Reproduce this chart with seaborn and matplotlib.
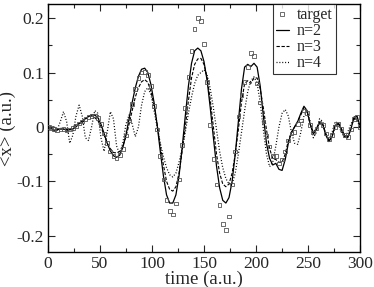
import numpy as np
import pandas as pd
import matplotlib
matplotlib.use("Agg")
import matplotlib.pyplot as plt
import seaborn as sns
from matplotlib.ticker import MultipleLocator, FixedLocator, FixedFormatter

# ---------------- data ----------------
time = np.arange(0, 301, 3)

target = [0.0, -0.002, -0.004, -0.006, -0.005, -0.004, -0.006, -0.005, -0.002, 0.002,
          0.006, 0.01, 0.014, 0.018, 0.02, 0.021, 0.016, 0.005, -0.012, -0.03,
          -0.045, -0.054, -0.057, -0.052, -0.04, -0.016, 0.012, 0.042, 0.07, 0.09,
          0.1, 0.101, 0.095, 0.075, 0.038, -0.005, -0.053, -0.097, -0.134, -0.155,
          -0.161, -0.141, -0.097, -0.033, 0.035, 0.092, 0.14, 0.18, 0.2, 0.195,
          0.152, 0.083, 0.004, -0.059, -0.106, -0.143, -0.178, -0.19, -0.165, -0.106,
          -0.045, 0.019, 0.059, 0.083, 0.11, 0.136, 0.131, 0.08, 0.045, 0.01,
          -0.016, -0.036, -0.053, -0.053, -0.067, -0.06, -0.045, -0.025, -0.012, -0.009,
          0.005, 0.012, 0.03, 0.025, 0.003, -0.01, -0.003, 0.008, 0.003, -0.012,
          -0.022, -0.015, 0.0, 0.005, -0.004, -0.015, -0.018, -0.005, 0.015, 0.018,
          0.0]

n2 = [0.0, -0.003, -0.006, -0.005, -0.004, -0.004, -0.005, -0.005, -0.004, 0.0,
      0.006, 0.011, 0.015, 0.019, 0.022, 0.022, 0.017, 0.005, -0.012, -0.03,
      -0.044, -0.053, -0.056, -0.052, -0.038, -0.015, 0.015, 0.045, 0.072, 0.093,
      0.106, 0.108, 0.1, 0.078, 0.045, 0.003, -0.045, -0.09, -0.125, -0.14,
      -0.14, -0.125, -0.09, -0.038, 0.02, 0.075, 0.117, 0.14, 0.145, 0.14,
      0.12, 0.085, 0.035, -0.02, -0.072, -0.112, -0.135, -0.14, -0.13, -0.1,
      -0.05, 0.01, 0.07, 0.11, 0.115, 0.111, 0.117, 0.11, 0.075, 0.02,
      -0.03, -0.058, -0.07, -0.067, -0.078, -0.08, -0.06, -0.03, -0.01, 0.0,
      0.01, 0.025, 0.038, 0.03, 0.005, -0.013, -0.005, 0.008, 0.005, -0.015,
      -0.027, -0.018, 0.003, 0.006, -0.005, -0.018, -0.02, -0.005, 0.018, 0.02,
      0.0]

n3 = [0.0, -0.004, -0.008, -0.006, -0.002, -0.004, -0.008, -0.006, 0.0, 0.004,
      0.006, 0.008, 0.014, 0.02, 0.02, 0.017, 0.012, 0.0, -0.015, -0.03,
      -0.04, -0.047, -0.048, -0.045, -0.035, -0.018, 0.005, 0.03, 0.055, 0.072,
      0.083, 0.087, 0.082, 0.065, 0.04, 0.005, -0.035, -0.07, -0.1, -0.115,
      -0.118, -0.11, -0.085, -0.045, 0.0, 0.048, 0.09, 0.115, 0.125, 0.126,
      0.115, 0.09, 0.05, 0.0, -0.05, -0.085, -0.105, -0.11, -0.105, -0.085,
      -0.05, -0.005, 0.045, 0.08, 0.085, 0.08, 0.09, 0.09, 0.07, 0.035,
      -0.005, -0.04, -0.058, -0.06, -0.065, -0.065, -0.05, -0.025, -0.01, 0.0,
      0.01, 0.022, 0.035, 0.028, 0.005, -0.01, -0.003, 0.01, 0.005, -0.012,
      -0.025, -0.018, 0.0, 0.008, -0.003, -0.015, -0.018, -0.004, 0.015, 0.017,
      0.0]

n4 = [0.0, 0.002, 0.0, -0.005, 0.01, 0.028, 0.01, -0.03, -0.015, 0.02,
      0.04, 0.02, -0.02, -0.025, 0.0, 0.03, 0.025, -0.02, -0.045, -0.01,
      0.028, 0.015, -0.035, -0.05, -0.03, 0.005, 0.022, 0.005, -0.018, 0.0,
      0.04, 0.065, 0.072, 0.06, 0.03, 0.0, -0.03, -0.055, -0.075, -0.088,
      -0.092, -0.085, -0.065, -0.04, -0.01, 0.025, 0.055, 0.08, 0.095, 0.1,
      0.105, 0.095, 0.07, 0.035, -0.005, -0.045, -0.075, -0.095, -0.105, -0.105,
      -0.085, -0.05, -0.01, 0.03, 0.065, 0.085, 0.092, 0.08, 0.045, -0.005,
      -0.05, -0.073, -0.065, -0.035, 0.0, 0.025, 0.032, 0.02, -0.01, -0.03,
      -0.032, -0.01, 0.02, 0.03, 0.01, -0.02, -0.01, 0.015, 0.01, -0.015,
      -0.025, -0.01, 0.01, 0.005, -0.01, -0.02, -0.01, 0.005, 0.015, 0.01,
      0.0]

series_labels = ["target", "n=2", "n=3", "n=4"]
xticks = [0, 50, 100, 150, 200, 250, 300]
xtick_labels = ["0", "50", "100", "150", "200", "250", "300"]
yticks = [-0.2, -0.1, 0.0, 0.1, 0.2]
ytick_labels = ["-0.2", "-0.1", "0", "0.1", "0.2"]
xlabel = "time (a.u.)"
ylabel = "<x> (a.u.)"

# ---------------- plot ----------------
sns.set_style("ticks")
plt.rcParams["font.family"] = ["Liberation Serif", "DejaVu Serif"]

df = pd.DataFrame({"time": time, "target": target, "n=2": n2, "n=3": n3, "n=4": n4})

fig = plt.figure(figsize=(3.74, 2.87), dpi=100)
ax = fig.add_axes([0.128, 0.122, 0.835, 0.864])

sns.scatterplot(data=df, x="time", y="target", ax=ax, marker="s", s=7,
                facecolor="none", edgecolor="#555555", linewidth=0.6, zorder=4)
sns.lineplot(data=df, x="time", y="n=2", ax=ax, color="black", linewidth=0.9,
             linestyle="-")
sns.lineplot(data=df, x="time", y="n=3", ax=ax, color="black", linewidth=0.8,
             linestyle=(0, (3, 1.5)))
sns.lineplot(data=df, x="time", y="n=4", ax=ax, color="black", linewidth=0.9,
             linestyle=(0, (0.8, 1.5)))

ax.set_xlim(0, 300)
ax.set_ylim(-0.23, 0.226)
ax.xaxis.set_major_locator(FixedLocator(xticks))
ax.xaxis.set_major_formatter(FixedFormatter(xtick_labels))
ax.yaxis.set_major_locator(FixedLocator(yticks))
ax.yaxis.set_major_formatter(FixedFormatter(ytick_labels))
ax.xaxis.set_minor_locator(MultipleLocator(25))
ax.yaxis.set_minor_locator(MultipleLocator(0.05))
ax.tick_params(which="both", direction="in", top=True, right=True,
               labelsize=12.5, width=0.8, pad=3)
ax.tick_params(which="major", length=5)
ax.tick_params(which="minor", length=3)
for sp in ax.spines.values():
    sp.set_linewidth(1.0)
    sp.set_color("black")

ax.set_xlabel(xlabel, fontsize=13.5, labelpad=-1)
ax.set_ylabel(ylabel, fontsize=13.5, labelpad=0)

handles = [
    plt.Line2D([], [], marker="s", markersize=2.6, markerfacecolor="none",
               markeredgecolor="#555555", markeredgewidth=0.6, linestyle="none"),
    plt.Line2D([], [], color="black", linewidth=0.9, linestyle="-"),
    plt.Line2D([], [], color="black", linewidth=0.8, linestyle=(0, (3, 1.5))),
    plt.Line2D([], [], color="black", linewidth=0.9, linestyle=(0, (0.8, 1.5))),
]
leg = ax.legend(handles, series_labels, loc="upper right", bbox_to_anchor=(0.922, 1.0),
                fontsize=11.5, frameon=True, fancybox=False, edgecolor="black",
                handlelength=0.8, handletextpad=0.5, borderpad=0.2,
                labelspacing=0.0, borderaxespad=0.0)
leg.get_frame().set_linewidth(0.8)

fig.savefig("out.png", dpi=100)
